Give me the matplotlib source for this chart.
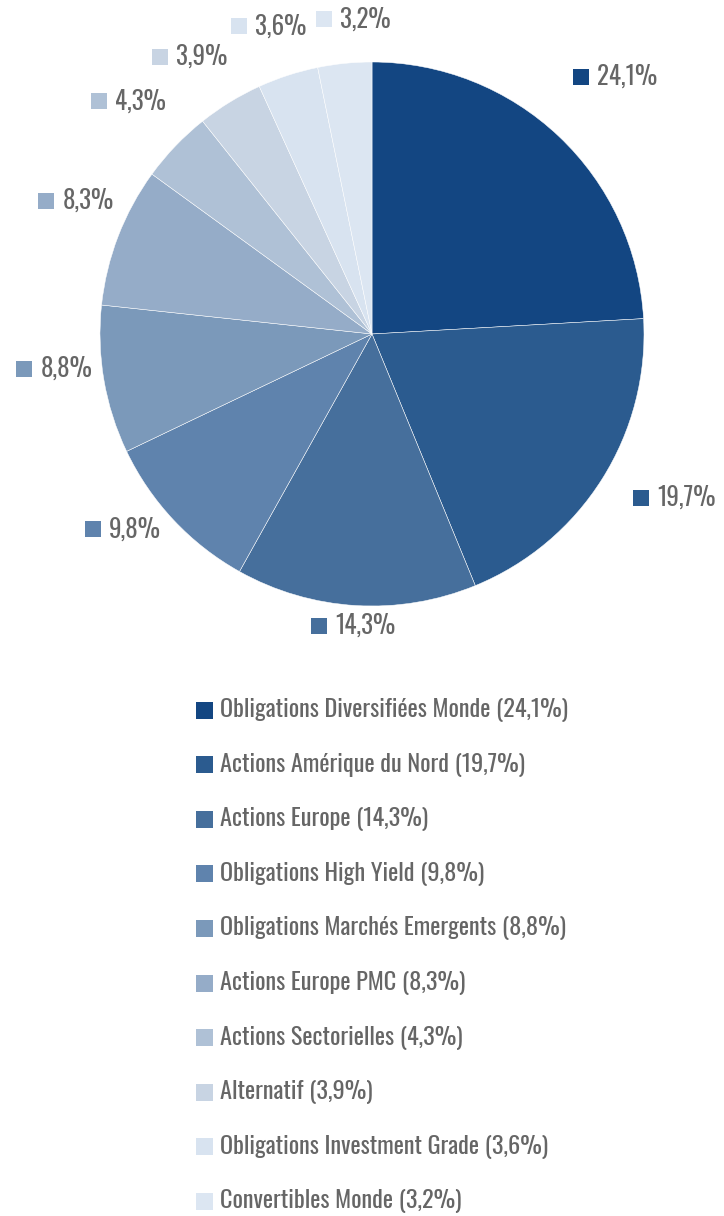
import numpy as np
import matplotlib
matplotlib.use("Agg")
import matplotlib.pyplot as plt
from matplotlib import font_manager as fm
from matplotlib.patches import Rectangle

# ---- data ----
categories = ["Obligations Diversifiées Monde", "Actions Amérique du Nord", "Actions Europe",
              "Obligations High Yield", "Obligations Marchés Emergents", "Actions Europe PMC",
              "Actions Sectorielles", "Alternatif", "Obligations Investment Grade",
              "Convertibles Monde"]
values = [24.1, 19.7, 14.3, 9.8, 8.8, 8.3, 4.3, 3.9, 3.6, 3.2]
colors = ["#134682", "#2B5B8F", "#466F9C", "#5F83AD", "#7B99BA",
          "#95ACC8", "#AFC1D6", "#C8D4E3", "#D8E3F0", "#DCE6F2"]

def fmt(v):
    return f"{v:.1f}%".replace(".", ",")

# ---- font ----
names = {f.name for f in fm.fontManager.ttflist}
family = "DejaVu Sans"
for cand in ["Oswald", "Roboto Condensed", "Pathway Gothic One", "Archivo Narrow", "Liberation Sans Narrow"]:
    if cand in names:
        family = cand
        break
plt.rcParams["font.family"] = [family, "DejaVu Sans"]
TXT = "#666666"

W, H = 724, 1216
fig = plt.figure(figsize=(W / 100, H / 100), dpi=100)
ax = fig.add_axes([0, 0, 1, 1])

cx, cy, r = 372, H - 334, 272
ax.pie(values, colors=colors, startangle=90, counterclock=False,
       center=(cx, cy), radius=r, frame=True,
       wedgeprops=dict(edgecolor="white", linewidth=0.35))
ax.set_xlim(0, W)
ax.set_ylim(0, H)
ax.axis("off")

fig.canvas.draw()
renderer = fig.canvas.get_renderer()

label_fs = 18
sq = 16
pad = 8
hh = 11
margin = 8


def near_dist(b):
    nx = min(max(cx, b[0]), b[1])
    ny = min(max(cy, b[2]), b[3])
    return np.hypot(nx - cx, ny - cy)


def overlap(a, b):
    return not (a[1] + margin < b[0] or a[0] > b[1] + margin or
                a[3] + margin < b[2] or a[2] > b[3] + margin)


def place(ang, hw):
    th = np.deg2rad(ang)
    c, s = np.cos(th), np.sin(th)
    ext = abs(c) * hw + abs(s) * hh
    if c > 0:
        gap, shift = 45, (27 if s < 0.6 else 0)
    elif s > 0.6:
        gap, shift = 30, 0
    else:
        gap, shift = 6, 19
    D = r + gap + ext
    x0, y0 = cx + D * c, cy + D * s + shift
    b = (x0 - hw, x0 + hw, y0 - hh, y0 + hh)
    while near_dist(b) < r + 8:
        if abs(c) > 0.5:
            x0 += np.sign(c)
        else:
            D += 1
            x0, y0 = cx + D * c, cy + D * s + shift
        b = (x0 - hw, x0 + hw, y0 - hh, y0 + hh)
    return x0, y0, b


cum = np.cumsum([0] + values)
mids = [90 - 3.6 * (cum[i] + v / 2) for i, v in enumerate(values)]
texts, hws = [], []
for v in values:
    t = ax.text(0, 0, fmt(v), fontsize=label_fs, color=TXT, va="center", ha="left")
    texts.append(t)
    hws.append((sq + pad + t.get_window_extent(renderer).width) / 2)

angs = list(mids)
for _ in range(600):
    res = [place(a, hw) for a, hw in zip(angs, hws)]
    moved = False
    for i in range(len(values) - 1):
        if overlap(res[i][2], res[i + 1][2]):
            angs[i] += 0.1
            angs[i + 1] -= 0.1
            moved = True
    if not moved:
        break

for i, (x0, y0, b) in enumerate(res):
    hw = hws[i]
    ax.add_patch(Rectangle((x0 - hw, y0 - sq / 2), sq, sq, facecolor=colors[i], edgecolor="none"))
    texts[i].set_position((x0 - hw + sq + pad, y0))

# ---- legend ----
leg_x = 196
leg_y0 = H - 710
leg_dy = 54.6
for i, (name, v) in enumerate(zip(categories, values)):
    y = leg_y0 - i * leg_dy
    ax.add_patch(Rectangle((leg_x, y - 8.5), 17, 17, facecolor=colors[i], edgecolor="none"))
    ax.text(leg_x + 24, y, f"{name} ({fmt(v)})", fontsize=17.5, color=TXT, va="center", ha="left")

fig.savefig("out.png", dpi=100)
